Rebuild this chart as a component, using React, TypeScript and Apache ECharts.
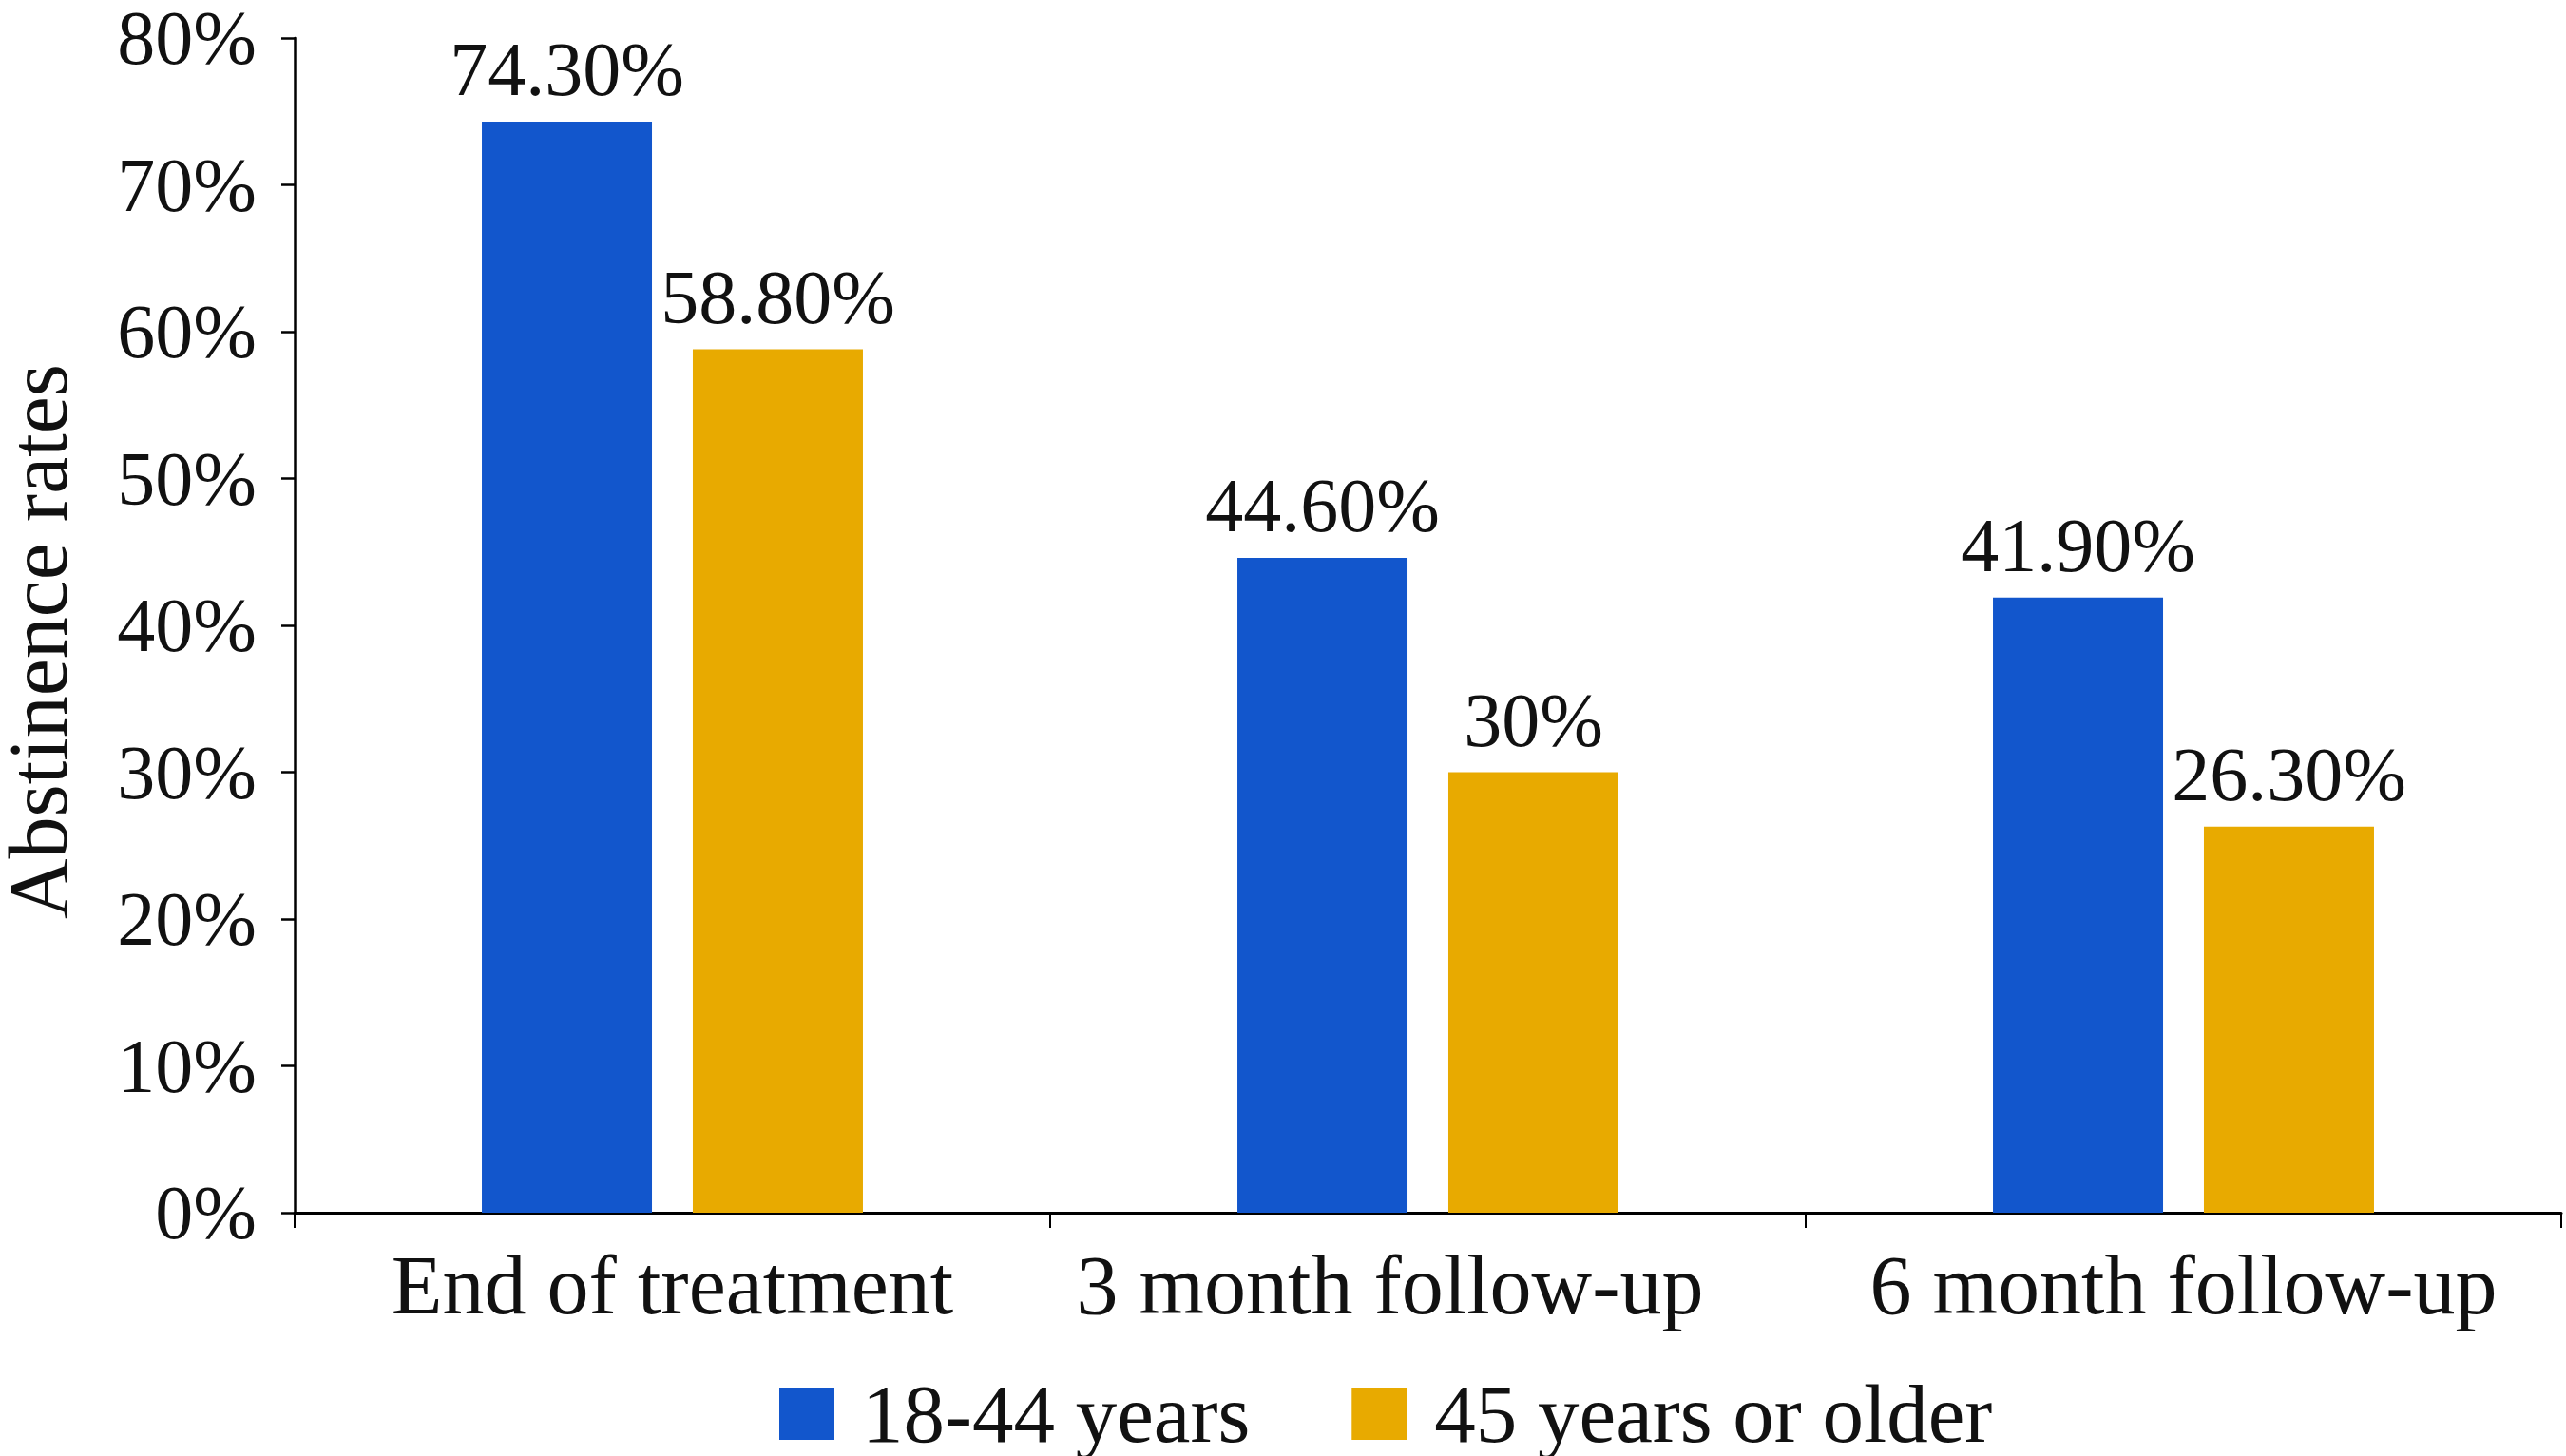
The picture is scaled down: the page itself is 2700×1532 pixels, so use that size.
import React, { useEffect, useRef } from "react";
import * as echarts from "echarts";

const categories = ["End of treatment", "3 month follow-up", "6 month follow-up"];
const seriesNames = ["18-44 years", "45 years or older"];
const youngerValues = [74.3, 44.6, 41.9];
const olderValues = [58.8, 30, 26.3];
const youngerLabels = ["74.30%", "44.60%", "41.90%"];
const olderLabels = ["58.80%", "30%", "26.30%"];
const yMin = 0;
const yMax = 80;
const yStep = 10;
const yAxisTitle = "Abstinence rates";

const FONT = "'Liberation Serif', 'DejaVu Serif', serif";
const TEXT = "#111111";
const BLUE = "#1256CC";
const GOLD = "#E8AA00";

export default function App() {
  const ref = useRef<HTMLDivElement>(null);

  useEffect(() => {
    document.body.style.margin = "0";
    if (!ref.current) return;
    const chart = echarts.init(ref.current, undefined, { renderer: "svg" });
    const labelStyle = {
      show: true,
      position: "top",
      distance: 15,
      fontSize: 80,
      fontFamily: FONT,
      color: TEXT,
    };
    // the middle category label sits slightly left of its band centre in the reference
    const categoryData = categories.map((c, i) =>
      i === 1 ? { value: c, textStyle: { padding: [0, 80, 0, 0] } } : c
    );
    chart.setOption({
      animation: false,
      backgroundColor: "#ffffff",
      grid: { left: 310, right: 5, top: 31, bottom: 256, containLabel: false },
      legend: {
        data: seriesNames,
        left: 820,
        top: 1444,
        itemWidth: 58,
        itemHeight: 55,
        itemGap: 107,
        icon: "rect",
        padding: 0,
        textStyle: {
          fontSize: 87,
          fontFamily: FONT,
          color: TEXT,
          padding: [0, 0, 0, 24],
        },
      },
      graphic: [
        {
          type: "text",
          x: 40,
          y: 675,
          rotation: Math.PI / 2,
          style: {
            text: yAxisTitle,
            fontSize: 88,
            fontFamily: FONT,
            fill: TEXT,
            textAlign: "center",
            textVerticalAlign: "middle",
          },
        },
      ],
      xAxis: {
        type: "category",
        data: categoryData,
        axisLine: { show: true, lineStyle: { color: "#000", width: 3 } },
        axisTick: { show: true, length: 16, lineStyle: { color: "#000", width: 2 } },
        axisLabel: { interval: 0, fontSize: 88, fontFamily: FONT, color: TEXT, margin: 32 },
        splitLine: { show: false },
      },
      yAxis: {
        type: "value",
        min: yMin,
        max: yMax,
        interval: yStep,
        axisLine: { show: true, lineStyle: { color: "#000", width: 2.5 } },
        axisTick: { show: true, length: 14, lineStyle: { color: "#000", width: 2.5 } },
        axisLabel: {
          formatter: "{value}%",
          fontSize: 80,
          fontFamily: FONT,
          color: TEXT,
          margin: 40,
        },
        splitLine: { show: false },
      },
      series: [
        {
          name: seriesNames[0],
          type: "bar",
          data: youngerValues,
          barWidth: 179,
          barGap: "24%",
          itemStyle: { color: BLUE },
          label: { ...labelStyle, formatter: (p: any) => youngerLabels[p.dataIndex] },
        },
        {
          name: seriesNames[1],
          type: "bar",
          data: olderValues,
          barWidth: 179,
          barGap: "24%",
          itemStyle: { color: GOLD },
          label: { ...labelStyle, formatter: (p: any) => olderLabels[p.dataIndex] },
        },
      ],
    });
    return () => chart.dispose();
  }, []);

  return <div ref={ref} style={{ width: 2700, height: 1532 }} />;
}
